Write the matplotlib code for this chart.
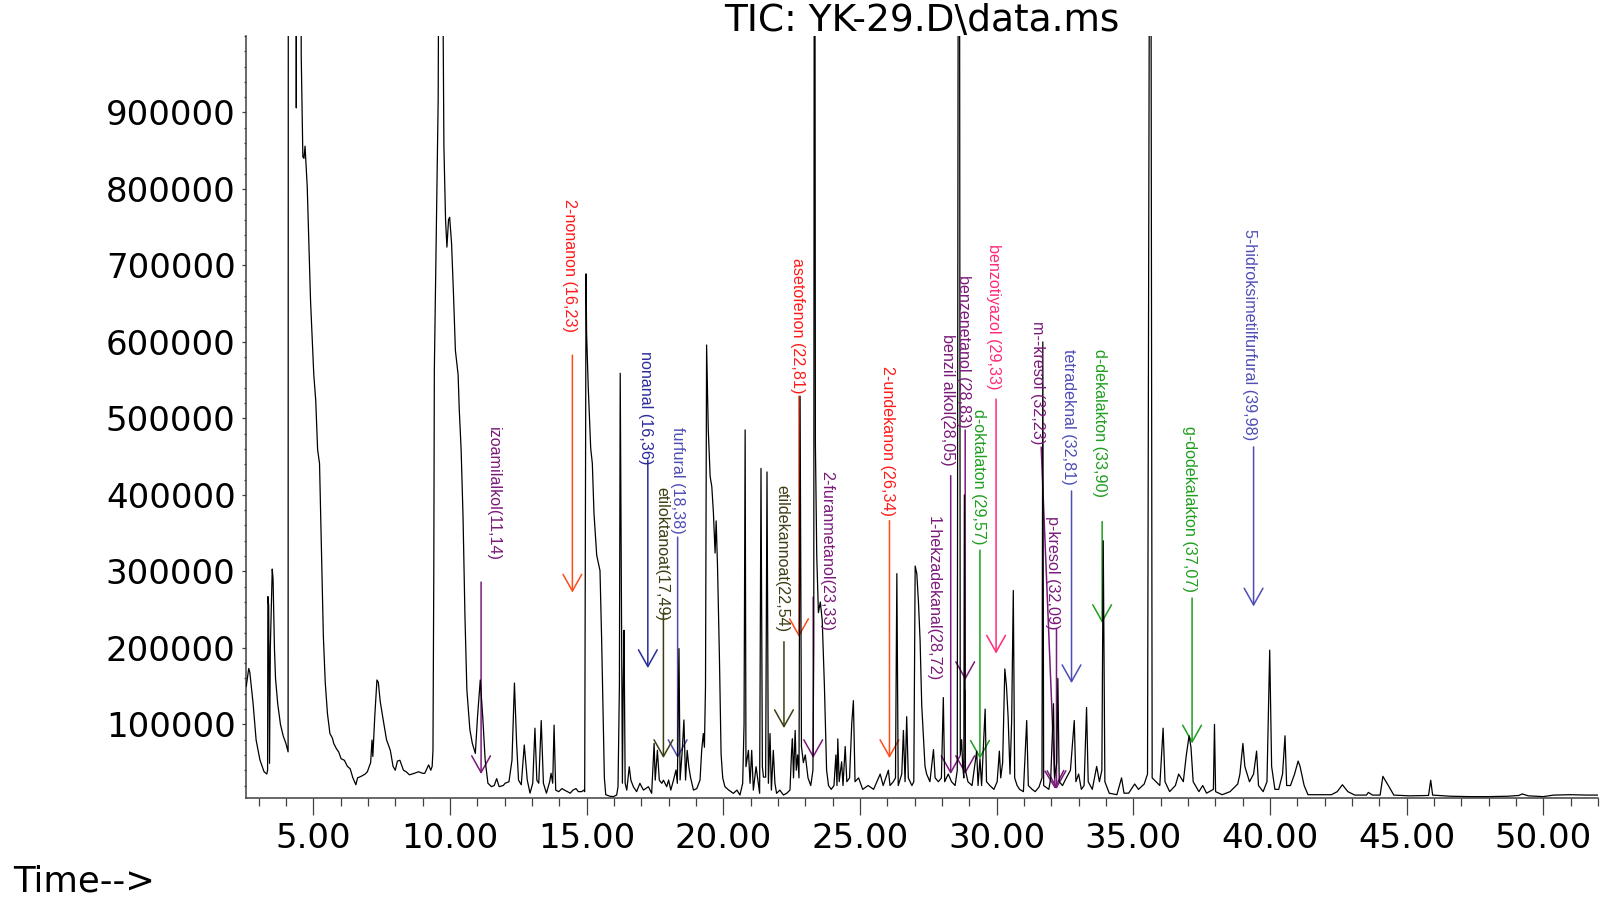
import matplotlib
matplotlib.use("Agg")
import matplotlib.pyplot as plt
from matplotlib.ticker import MultipleLocator, FixedLocator

# ---------------- data ----------------
time_min = [
    2.55, 2.64, 2.68, 2.80, 2.91, 3.05, 3.20, 3.30, 3.33, 3.34, 3.37, 3.40, 3.43, 3.50, 3.53, 3.58, 3.62,
    3.70, 3.80, 3.90, 4.00, 4.08, 4.09, 4.36, 4.38, 4.40, 4.54, 4.56, 4.62, 4.66, 4.70, 4.78, 4.90,
    5.02, 5.09, 5.16, 5.23, 5.30, 5.37, 5.44, 5.52, 5.61, 5.70, 5.75, 5.85, 5.93, 6.02, 6.14, 6.25,
    6.35, 6.45, 6.56, 6.62, 6.75, 6.90, 6.98, 7.10, 7.15, 7.18, 7.25, 7.33, 7.38, 7.45, 7.54, 7.68,
    7.82, 7.92, 8.00, 8.08, 8.17, 8.30, 8.40, 8.52, 8.70, 8.85, 9.00, 9.08, 9.22, 9.30, 9.35, 9.38,
    9.41, 9.43, 9.50, 9.57, 9.61, 9.70, 9.78, 9.84, 9.89, 9.95, 9.99, 10.06, 10.13, 10.20, 10.30,
    10.34, 10.41, 10.48, 10.55, 10.62, 10.73, 10.82, 10.93, 11.01, 11.11, 11.20, 11.29, 11.39, 11.52,
    11.62, 11.71, 11.80, 11.95, 12.02, 12.16, 12.27, 12.36, 12.44, 12.51, 12.61, 12.72, 12.83, 12.93,
    13.03, 13.11, 13.18, 13.25, 13.34, 13.42, 13.53, 13.65, 13.70, 13.76, 13.81, 13.87, 13.98, 14.10,
    14.19, 14.30, 14.40, 14.50, 14.61, 14.70, 14.82, 14.90, 14.93, 14.96, 14.98, 15.00, 15.06, 15.15,
    15.21, 15.27, 15.37, 15.49, 15.55, 15.61, 15.65, 15.70, 15.85, 15.98, 16.10, 16.15, 16.20, 16.23,
    16.27, 16.31, 16.34, 16.37, 16.41, 16.47, 16.56, 16.62, 16.71, 16.83, 16.95, 17.08, 17.26, 17.38,
    17.47, 17.51, 17.59, 17.66, 17.75, 17.81, 17.93, 18.00, 18.08, 18.18, 18.27, 18.32, 18.38, 18.42,
    18.50, 18.56, 18.62, 18.68, 18.74, 18.80, 18.91, 19.03, 19.15, 19.21, 19.27, 19.31, 19.35, 19.39,
    19.45, 19.52, 19.58, 19.64, 19.70, 19.74, 19.79, 19.86, 19.92, 19.98, 20.06, 20.20, 20.37, 20.50,
    20.61, 20.71, 20.76, 20.80, 20.83, 20.92, 20.98, 21.04, 21.10, 21.20, 21.28, 21.33, 21.38, 21.43,
    21.47, 21.55, 21.60, 21.65, 21.71, 21.76, 21.83, 21.89, 21.95, 22.07, 22.20, 22.32, 22.44, 22.50,
    22.53, 22.57, 22.63, 22.67, 22.72, 22.77, 22.81, 22.86, 22.93, 23.00, 23.10, 23.20, 23.28, 23.31,
    23.33, 23.35, 23.37, 23.42, 23.48, 23.55, 23.62, 23.70, 23.78, 23.85, 23.95, 24.05, 24.12, 24.16,
    24.19, 24.24, 24.33, 24.38, 24.46, 24.52, 24.62, 24.70, 24.76, 24.82, 24.95, 25.10, 25.30, 25.50,
    25.74, 25.85, 26.04, 26.10, 26.22, 26.30, 26.35, 26.40, 26.53, 26.59, 26.65, 26.71, 26.77, 26.90,
    26.97, 27.02, 27.08, 27.14, 27.20, 27.26, 27.32, 27.38, 27.44, 27.56, 27.69, 27.75, 27.87, 27.98,
    28.05, 28.10, 28.23, 28.35, 28.48, 28.56, 28.60, 28.64, 28.67, 28.72, 28.76, 28.80, 28.82, 28.86,
    28.95, 29.10, 29.27, 29.32, 29.39, 29.45, 29.58, 29.63, 29.75, 29.90, 30.02, 30.10, 30.15, 30.22,
    30.30, 30.36, 30.42, 30.49, 30.55, 30.61, 30.66, 30.75, 30.84, 30.98, 31.10, 31.16, 31.30, 31.41,
    31.55, 31.66, 31.69, 31.72, 31.91, 31.98, 32.08, 32.12, 32.20, 32.24, 32.29, 32.41, 32.55, 32.70,
    32.84, 32.90, 33.00, 33.10, 33.20, 33.29, 33.35, 33.50, 33.66, 33.76, 33.85, 33.90, 33.96, 34.12,
    34.40, 34.57, 34.66, 34.83, 35.05, 35.19, 35.40, 35.52, 35.60, 35.64, 35.69, 35.83, 35.97, 36.09,
    36.16, 36.33, 36.54, 36.66, 36.83, 36.94, 37.04, 37.11, 37.19, 37.40, 37.54, 37.68, 37.93, 37.97,
    38.01, 38.25, 38.54, 38.82, 38.90, 39.01, 39.08, 39.25, 39.40, 39.51, 39.58, 39.75, 39.89, 39.99,
    40.06, 40.18, 40.32, 40.46, 40.55, 40.61, 40.75, 40.90, 41.03, 41.10, 41.25, 41.39, 41.82, 42.25,
    42.46, 42.65, 42.85, 43.10, 43.53, 43.60, 43.75, 44.03, 44.13, 44.33, 44.53, 45.10, 45.80, 45.88,
    45.95, 46.60, 47.30, 48.00, 48.70, 49.10, 49.23, 49.45, 50.00, 50.38, 51.00, 51.60, 52.00,
]
abundance = [
    150000, 173000, 168000, 127000, 79500, 53400, 38100, 35000, 40000, 267000, 255000, 49000, 200000, 303000, 290000, 200000, 160000,
    127000, 100000, 85000, 75000, 64000, 1500000, 1500000, 906000, 1500000, 1500000, 975000, 842000, 840000, 856000, 803000, 655000,
    557000, 524000, 459000, 441000, 328000, 215000, 154000, 114000, 88000, 82000, 75000, 68000, 64000, 55000, 53000, 45000,
    42000, 30000, 21000, 30000, 32000, 35000, 38000, 50000, 79500, 58000, 110000, 158000, 155000, 130000, 110000, 80000,
    66000, 45000, 40000, 52000, 53000, 40000, 38000, 34000, 36000, 38000, 36000, 36000, 47000, 40000, 45000, 66000,
    300000, 563000, 737000, 916000, 1300000, 1300000, 855000, 760000, 724000, 760000, 763000, 729000, 663000, 589000, 557000,
    513000, 459000, 371000, 241000, 145000, 93000, 75000, 62000, 110000, 158000, 110000, 53000, 23000, 18500,
    20000, 29000, 18500, 20000, 23000, 25000, 53000, 154000, 75000, 27000, 21000, 73000, 27000, 10000,
    23000, 95000, 27000, 23000, 105000, 23000, 10000, 25000, 36000, 23000, 99000, 14000, 12000, 16000,
    14000, 12000, 10000, 14000, 16000, 12000, 12000, 14000, 12000, 400000, 689000, 611000, 541000, 461000,
    441000, 376000, 321000, 301000, 211000, 100000, 30000, 8000, 6000, 5500, 7600, 18500, 150000, 559000,
    284000, 23000, 150000, 223000, 23000, 14000, 44600, 27000, 18500, 12000, 22900, 14000, 18500, 9800,
    75000, 27000, 66000, 27000, 22900, 27000, 18500, 27200, 14000, 27200, 40300, 22900, 199000, 27200,
    66000, 105700, 27200, 66000, 44600, 31000, 14000, 16000, 27200, 66000, 88000, 70000, 150000, 596000,
    486000, 424000, 411000, 376000, 324000, 366000, 306000, 186000, 61000, 30000, 18500, 14000, 9800, 14000,
    7600, 22900, 100000, 485000, 44600, 66000, 22900, 66000, 14000, 44600, 22900, 9800, 434600, 44600,
    31000, 31000, 430000, 22900, 88000, 14000, 66000, 22900, 9800, 14000, 7600, 9800, 14000, 66000,
    81000, 30000, 92000, 40000, 60000, 30000, 529000, 71000, 50000, 60000, 30000, 20000, 40000, 200000,
    1300000, 1300000, 466000, 320000, 246000, 260000, 236000, 150000, 40000, 20000, 15000, 20000, 60000, 20000,
    81000, 25000, 51000, 20000, 71000, 25000, 30000, 101000, 131000, 25000, 30000, 15000, 20000, 15000,
    35000, 20000, 40000, 20000, 25000, 30000, 297000, 20000, 35000, 92000, 25000, 110000, 30000, 20000,
    25000, 307000, 297000, 260000, 210000, 125000, 85000, 45000, 35000, 25000, 67000, 30000, 25000, 30000,
    135000, 25000, 35000, 25000, 20000, 40000, 1300000, 1300000, 60000, 80000, 45000, 30000, 400000, 40000,
    25000, 20000, 65000, 20000, 55000, 20000, 120000, 25000, 20000, 15000, 25000, 65000, 30000, 50000,
    172500, 150000, 110000, 35000, 105000, 275000, 30000, 20000, 15000, 12000, 105000, 20000, 15000, 12000,
    18000, 30000, 600000, 20000, 15000, 30000, 127000, 30000, 50000, 160000, 25000, 20000, 30000, 40000,
    105000, 25000, 35000, 15000, 20000, 122000, 25000, 15000, 45000, 25000, 40000, 340000, 25000, 10000,
    8000, 30000, 10000, 10000, 22000, 15000, 22000, 35000, 1300000, 1300000, 30000, 25000, 20000, 95000,
    25000, 12000, 20000, 35000, 25000, 60000, 85000, 70000, 25000, 12000, 20000, 10000, 15000, 100000,
    12000, 8000, 12000, 22000, 35000, 75000, 45000, 25000, 35000, 65000, 20000, 12000, 25000, 197000,
    45000, 15000, 15000, 35000, 85000, 20000, 20000, 35000, 52000, 45000, 20000, 8000, 8000, 8000,
    12000, 21000, 12000, 7500, 7500, 11000, 7500, 7500, 32000, 20000, 7500, 6500, 7000, 27000,
    7500, 6000, 5500, 5500, 6000, 7000, 9000, 6500, 5500, 7500, 8000, 7500, 7500,
]

compound_labels = [
    "izoamilalkol(11,14)", "2-nonanon (16,23)", "nonanal (16,36)", "furfural (18,38)",
    "etiloktanoat(17,49)", "asetofenon (22,81)", "etildekannoat(22,54)", "2-furanmetanol(23,33)",
    "2-undekanon (26,34)", "1-hekzadekanal(28,72)", "benzil alkol(28,05)", "benzenetanol (28,83)",
    "benzotiyazol (29,33)", "d-oktalaton (29,57)", "m--kresol (32,23)", "p-kresol (32,09)",
    "tetradeknal (32,81)", "d-dekalakton (33,90)", "g-dodekalakton (37,07)",
    "5-hidroksimetilfurfural (39,98)",
]

x_ticks = [5, 10, 15, 20, 25, 30, 35, 40, 45, 50]
y_ticks = [100000, 200000, 300000, 400000, 500000, 600000, 700000, 800000, 900000]

# ---------------- layout / style ----------------
PURPLE = "#7a1a7a"
RED = "#ff1a1a"
ORANGE = "#ff4a1a"
BLUE_D = "#2b2b9a"
BLUE_L = "#4d4db5"
OLIVE = "#3d3d14"
GREEN = "#1e9e1e"
PINK = "#ff2a7a"

# (text_x, text_top, arrow_x0, arrow_y0, arrow_x1, arrow_y1, text color, arrow color)
annot_layout = [
    (11.59, 488600, 11.14, 286000, 11.14, 35000, PURPLE, PURPLE),
    (14.39, 786700, 14.48, 582700, 14.48, 272300, RED, ORANGE),
    (17.14, 588000, 17.24, 445500, 17.24, 173600, BLUE_D, BLUE_D),
    (18.31, 488600, 18.33, 344800, 18.33, 55900, BLUE_L, BLUE_L),
    (17.75, 410200, 17.81, 245500, 17.81, 55900, OLIVE, OLIVE),
    (22.70, 709500, 22.77, 529100, 22.77, 214100, RED, ORANGE),
    (22.14, 412800, 22.22, 208000, 22.22, 95100, OLIVE, OLIVE),
    (23.80, 431100, 23.29, 266400, 23.29, 55900, PURPLE, PURPLE),
    (25.99, 568900, 26.08, 366300, 26.08, 55900, RED, ORANGE),
    (27.68, 372700, 28.85, 144800, 28.85, 35000, PURPLE, PURPLE),
    (28.19, 610200, 28.32, 425200, 28.32, 35000, PURPLE, PURPLE),
    (28.77, 687300, 28.85, 484700, 28.85, 157900, PURPLE, PURPLE),
    (29.87, 727800, 29.98, 525200, 29.98, 192500, PINK, PINK),
    (29.32, 512700, 29.39, 327800, 29.39, 55000, GREEN, GREEN),
    (31.48, 627800, 31.63, 462500, 32.14, 15400, PURPLE, PURPLE),
    (32.05, 372700, 32.19, 225100, 32.19, 15400, PURPLE, PURPLE),
    (32.62, 590600, 32.74, 405100, 32.74, 153900, BLUE_L, BLUE_L),
    (33.75, 590600, 33.86, 365100, 33.86, 232500, GREEN, GREEN),
    (37.04, 490200, 37.15, 265100, 37.15, 75000, GREEN, GREEN),
    (39.25, 747800, 39.40, 462700, 39.40, 254100, BLUE_L, BLUE_L),
]

W, H = 1611, 900
fig = plt.figure(figsize=(W / 100, H / 100), dpi=100)
ax = fig.add_axes([246 / W, 1 - 798.3 / H, (1598 - 246) / W, (798.3 - 36) / H])

ax.plot(time_min, abundance, color="black", lw=0.9, zorder=3)

ax.set_xlim(2.54, 52.0)
ax.set_ylim(3300, 1000000)

for s in ("top", "right"):
    ax.spines[s].set_visible(False)
for s in ("left", "bottom"):
    ax.spines[s].set_color("#404040")
    ax.spines[s].set_linewidth(1.1)

ax.xaxis.set_major_locator(FixedLocator(x_ticks))
ax.xaxis.set_minor_locator(MultipleLocator(1))
ax.yaxis.set_major_locator(FixedLocator(y_ticks))
ax.yaxis.set_minor_locator(MultipleLocator(20000))
ax.set_xticklabels([f"{v:.2f}" for v in x_ticks])
ax.set_yticklabels([str(v) for v in y_ticks])

ax.tick_params(axis="x", which="major", direction="out", length=12, width=0.9,
               color="#404040", pad=5, labelsize=24.5)
ax.tick_params(axis="x", which="minor", direction="out", length=6, width=0.9, color="#404040")
ax.tick_params(axis="y", which="major", direction="out", length=3, width=0.9,
               color="#404040", pad=4.5, labelsize=24.5)
ax.tick_params(axis="y", which="minor", direction="out", length=1.5, width=0.9, color="#404040")
for lab in ax.get_xticklabels() + ax.get_yticklabels():
    lab.set_family("DejaVu Sans")

for label, (tx, ty, ax0, ay0, ax1, ay1, tc, acol) in zip(compound_labels, annot_layout):
    ax.text(tx, ty, label, rotation=270, ha="center", va="top", color=tc,
            fontsize=11.6, family="Liberation Sans", zorder=4)
    ax.annotate("", xy=(ax1, ay1), xytext=(ax0, ay0),
                arrowprops=dict(arrowstyle="->,head_length=0.8,head_width=0.45",
                                color=acol, lw=1.1, shrinkA=0, shrinkB=0,
                                mutation_scale=15), zorder=2)

fig.text(922 / W, 1 - 21 / H, "TIC: YK-29.D\\data.ms", ha="center", va="center",
         fontsize=27, family="DejaVu Sans")
fig.text(13 / W, 1 - 892 / H, "Time-->", ha="left", va="baseline",
         fontsize=25.5, family="DejaVu Sans")

fig.savefig("out.png", dpi=100)
